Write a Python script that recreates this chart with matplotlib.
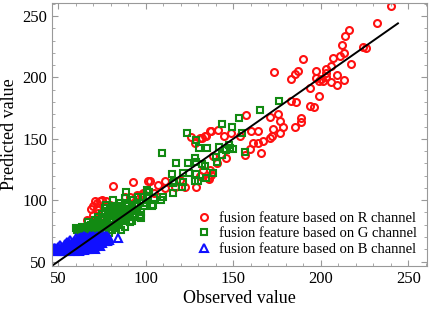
import numpy as np
from matplotlib import pyplot as plt
from matplotlib.ticker import MultipleLocator

plt.rcParams['font.family'] = ['Liberation Serif', 'DejaVu Serif']

# fusion feature based on R channel (observed, predicted)
red_pts = [
    (240, 258), (232, 244), (216, 239), (214, 234), (212, 226), (213, 220), (211, 217.5), (207, 216),
    (224, 225), (226, 224), (217, 211), (190, 215), (173, 204.5), (183, 199), (185, 202.5), (187, 205),
    (197, 205), (197, 199.5), (203, 207), (203, 203.5), (206, 209), (209, 202), (200, 199), (201, 197),
    (199, 197), (203, 200), (206, 196), (209, 194), (213, 197.5), (194, 191), (199, 185), (194, 176.5),
    (196, 176), (183, 180.5), (186, 180), (188.5, 167), (188.5, 164), (185, 159.5), (178.5, 160),
    (176.5, 164.5), (175.5, 170), (171, 168), (164, 156), (160, 156.5), (157.5, 169.5), (172.5, 158),
    (172, 152), (176.5, 155), (167, 148), (164, 146.5), (159.5, 141.5), (166, 138.5), (156.5, 137),
    (154, 152), (149, 154.5), (145, 152.5), (141.5, 157.5), (137.5, 156), (134.5, 152), (132, 150.5),
    (128, 146.5), (126, 151.5), (131, 150.5), (134, 152.5), (136.5, 156.5), (171, 150.5), (161, 146.5),
    (146, 134), (138.5, 136), (140.5, 130), (136.5, 125), (137.5, 120.5), (133, 125), (131, 119.5),
    (135.5, 118), (111, 115.5), (107, 112.5), (102.5, 116), (93, 115), (101.5, 115.5), (116.5, 111),
    (122.5, 111), (129, 110.5), (136, 117), (81.5, 111.5), (111, 110), (119.5, 116.5), (98.5, 106),
    (104.5, 106), (95, 104.5), (88, 103), (91, 103), (97.5, 104.5),
    (71, 99), (70, 95), (73, 89.5), (75, 100.5), (77.5, 99), (79.5, 96.5), (72, 92.5), (72, 97.5),
    (74, 99), (77.5, 95), (73, 84), (66.5, 84), (69, 93), (76, 91), (78, 88), (70, 88),
]

# fusion feature based on G channel
green_pts = [
    (176, 181), (165, 173.5), (153, 167), (143.5, 162), (149.5, 159.5), (155, 154.5), (156.5, 139),
    (123.5, 154.5), (128.5, 149), (130.5, 142.5), (135, 142.5), (109.5, 138.5), (142, 143.5),
    (148, 142.5), (147.5, 145), (146, 141), (150, 141.5), (140, 135.5), (128, 134.5), (143.5, 137),
    (140.5, 131.5), (117.5, 130), (124, 130), (129, 131.5), (132, 129.5), (134, 128), (115, 121.5),
    (121.5, 122), (125, 122), (129, 121), (138.5, 122), (116, 115.5), (121.5, 115), (128, 115.5),
    (130, 115.5), (134.5, 118), (120.5, 111), (115.5, 114), (115.5, 106), (110, 103), (109, 100.5),
    (104.5, 102), (104, 96.5), (101, 108.5), (100.5, 102), (95.5, 103), (98.5, 103), (102, 107),
    (89, 107), (88.5, 102), (93, 100.5), (92, 96.5), (85.5, 97.5), (103.5, 95), (96.5, 88),
    (97.5, 90.5), (97.5, 85.5), (92, 83), (90, 89.5), (87, 83), (88, 78.5), (96.5, 87), (81.5, 100.5),
    (79.5, 93.5), (77.5, 96.5),
    (60.5, 77.5), (63.5, 78.5), (65.5, 72), (68, 77.5), (71, 81.5), (72, 80), (70, 74), (74, 76),
    (76, 79), (78, 82), (80, 85), (75, 86), (77, 90), (80, 91), (82, 88), (84, 85), (83, 80), (81, 76),
    (79, 73), (76, 73), (73, 72.5), (68, 73), (62, 74), (66, 76), (70, 78), (85, 90), (87, 93),
    (84, 94), (82, 92), (86, 87), (88, 86), (90, 92), (92, 93), (94, 95), (79, 87), (76, 84), (73, 83),
    (69, 80), (67, 82), (85, 80), (83, 77), (86, 76), (78, 78), (74, 80), (80, 80), (71, 76.5),
    (64, 75), (93, 89), (91, 86), (95, 97),
    (61, 75.5), (63, 76.5), (66, 74), (67, 79), (69, 75.5), (72, 74.5), (74, 78), (75, 81.5),
    (77, 76), (78, 85), (79, 79.5), (80, 88.5), (81, 83), (82, 78.5), (83, 86), (84, 82.5),
    (85, 93), (86, 84), (87, 89), (88, 91.5), (89, 85), (90, 95.5), (91, 82.5), (93, 91),
    (94, 86.5), (75, 88.5), (73, 86.5), (71, 84), (70, 81.5), (77, 93.5), (81, 95), (83, 90.5),
    (86, 95.5), (89, 97.5), (95, 92), (99, 95), (100, 98),
]

# fusion feature based on B channel
blue_pts = [
    (47, 59), (47.5, 61), (48, 59.5), (49, 60), (50, 62), (50, 59), (51, 63.5), (52, 59.5), (53, 61),
    (53, 59), (54, 64), (55, 66), (55, 60), (56, 59), (56, 62.5), (57, 68), (58, 65), (58, 60),
    (59, 59), (59, 62), (60, 69), (60, 66), (61, 63), (61, 60), (62, 59), (62, 67), (63, 70), (63, 64),
    (64, 61), (64, 67.5), (65, 70.5), (65, 59.5), (66, 65), (66, 62), (67, 69), (67, 60.5), (68, 71),
    (68, 66), (69, 63), (69, 61), (70, 68), (70, 70.5), (71, 65), (71, 62.5), (72, 71), (72, 67),
    (73, 64), (73, 69.5), (74, 71), (74, 66), (75, 68), (75, 70), (76, 71), (76, 67), (77, 69),
    (77, 70.5), (78, 68), (78, 70.5), (79, 69.5), (66, 67.5), (62, 61.5), (57, 63), (71, 60.5),
    (74, 63), (84.5, 69),
    (48.5, 61), (49.5, 58.5), (51, 60.5), (52, 62), (54, 58.5), (54, 61.5), (55, 63.5), (56, 65.5),
    (57, 60.5), (58, 62.5), (59, 64.5), (59, 67), (60, 61), (60, 63.5), (61, 65.5), (61, 68),
    (62, 64.5), (62, 69.5), (63, 59.5), (63, 62), (64, 64), (64, 70), (65, 62.5), (65, 66.5),
    (66, 60), (66, 70), (67, 63), (67, 66), (68, 61.5), (68, 68.5), (69, 65.5), (69, 70),
    (70, 62), (70, 65), (71, 67.5), (71, 70), (72, 63.5), (72, 69), (73, 66.5), (74, 68.5),
    (75, 65), (76, 69), (77, 67), (78, 66.5), (79, 68),
]

fit_line = [47, 244]

red = np.array(red_pts)
green = np.array(green_pts)
blue = np.array(blue_pts)

fig = plt.figure(figsize=(4.29, 3.11), dpi=100)
ax = fig.add_axes([0.121, 0.145, 0.874, 0.845])

ax.plot(red[:, 0], red[:, 1], 'o', mfc='none', mec='#ff1010', ms=5, mew=1.5,
        label='fusion feature based on R channel')
ax.plot(green[:, 0], green[:, 1], 's', mfc='none', mec='#128a12', ms=4.6, mew=1.5,
        label='fusion feature based on G channel')
ax.plot(blue[:, 0], blue[:, 1], '^', mfc='none', mec='#1010ff', ms=5.2, mew=1.5,
        label='fusion feature based on B channel')
ax.plot(fit_line, fit_line, color='black', lw=1.4)

ax.set_xlim(46.5, 260.5)
ax.set_ylim(46.5, 260.5)
ax.xaxis.set_major_locator(MultipleLocator(50))
ax.yaxis.set_major_locator(MultipleLocator(50))
ax.xaxis.set_minor_locator(MultipleLocator(10))
ax.yaxis.set_minor_locator(MultipleLocator(10))
ax.tick_params(which='both', direction='in', top=True, right=True, color='#999999', labelsize=12)
ax.tick_params(which='major', length=4)
ax.tick_params(which='minor', length=2)
for s in ax.spines.values():
    s.set_color('#999999')

ax.set_xlabel('Observed value', fontsize=13, labelpad=2)
ax.set_ylabel('Predicted value', fontsize=13, labelpad=3)

ax.legend(loc='lower right', frameon=False, fontsize=10.5, handlelength=0.8, handletextpad=0.6,
          labelspacing=0.15, borderaxespad=0.3, markerscale=1.0)

fig.savefig('out.png', dpi=100)
